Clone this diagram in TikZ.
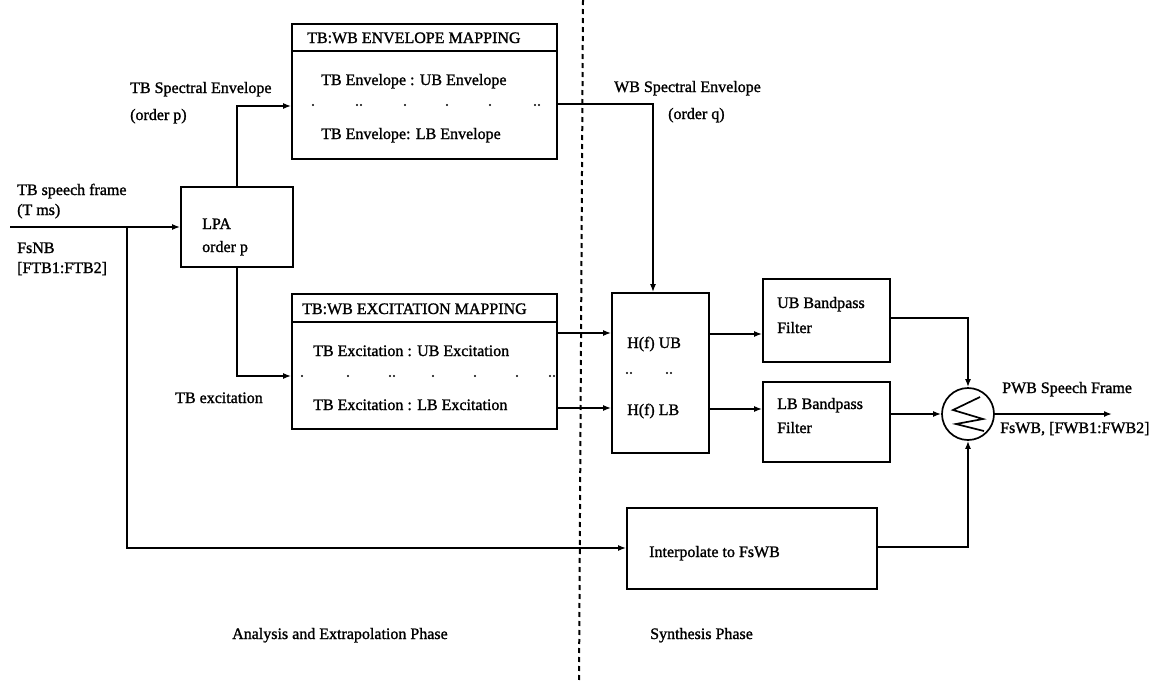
\documentclass[tikz,border=0pt]{standalone}
\usepackage{fontspec}
\setmainfont{Liberation Serif}
\newfontfamily\scanfont{Liberation Serif}[FakeBold=1.3]
\usetikzlibrary{arrows.meta}
\tikzset{
  box/.style={draw, line width=1.7pt, inner sep=0pt},
  lbl/.style={anchor=base west, inner sep=0pt, font=\scanfont\fontsize{16}{19}\selectfont},
  arr/.style={line width=1.6pt, -{Latex[length=8pt,width=6pt]}},
  ln/.style={line width=1.7pt},
  divider/.style={line width=2pt, dash pattern=on 5pt off 4pt},
}
\begin{document}
\begin{tikzpicture}[x=1pt,y=-1pt]
\useasboundingbox (0,0) rectangle (1161,683);
% boxes
\node[box, minimum width=112pt, minimum height=80pt] (lpa) at (237,227) {};
\node[box, minimum width=265pt, minimum height=135pt] (env) at (424.5,91.5) {};
\node[box, minimum width=265pt, minimum height=135pt] (exc) at (424.5,361.5) {};
\node[box, minimum width=97pt, minimum height=160pt] (hf) at (660.5,373) {};
\node[box, minimum width=127pt, minimum height=83pt] (ubf) at (826.5,320.5) {};
\node[box, minimum width=127pt, minimum height=80pt] (lbf) at (826.5,422) {};
\node[box, minimum width=250pt, minimum height=81pt] (interp) at (752,548.5) {};
\node[box, circle, minimum size=52pt] (sum) at (968,414) {};
% title separators
\coordinate (envsep) at (0,51);
\coordinate (excsep) at (0,322);
\draw[ln] (env.west |- envsep) -- (env.east |- envsep);
\draw[ln] (exc.west |- excsep) -- (exc.east |- excsep);
% dotted separators
\foreach \x in {313,357,361,405,447,490,535,539} \fill (\x,105) circle (1.1);
\foreach \x in {302,348,390,394,433,475,517,550,554} \fill (\x,376) circle (1.1);
\foreach \x in {627,631,667,671} \fill (\x,373) circle (1.1);
% divider
\coordinate (dv1) at (583,0);
\coordinate (dv2) at (579,683);
\draw[divider] (dv1) -- (dv2);
% summer symbol
\draw[ln, line join=miter, shift={(sum.center)}] (12,-17) -- (-15,-4) -- (15,5) -- (-12,10) -- (16,17);
% connectors
\coordinate (in) at (10,227);
\coordinate (jn) at (127,227);
\coordinate (jnb) at (127,548);
\draw[arr] (in) -- (lpa.west);
\draw[arr] (jn) -- (jnb) -- (interp.west |- jnb);
\coordinate (envin) at (237,106);
\draw[arr] (lpa.north) -- (envin) -- (env.west |- envin);
\coordinate (excin) at (237,376);
\draw[arr] (lpa.south) -- (excin) -- (exc.west |- excin);
\coordinate (wbc) at (653,104);
\draw[arr] (env.east |- wbc) -- (wbc) -- (hf.north -| wbc);
\coordinate (e1) at (0,333);
\coordinate (e2) at (0,408);
\draw[arr] (exc.east |- e1) -- (hf.west |- e1);
\draw[arr] (exc.east |- e2) -- (hf.west |- e2);
\coordinate (h1) at (0,334);
\coordinate (h2) at (0,409);
\draw[arr] (hf.east |- h1) -- (ubf.west |- h1);
\draw[arr] (hf.east |- h2) -- (lbf.west |- h2);
\coordinate (u1) at (968,318);
\draw[arr] (ubf.east |- u1) -- (u1) -- (sum.north);
\draw[arr] (lbf.east |- sum) -- (sum.west);
\coordinate (i1) at (968,547);
\draw[arr] (interp.east |- i1) -- (i1) -- (sum.south);
\coordinate (out) at (1112,414);
\draw[arr] (sum.east) -- (out);
% labels
\node[lbl] (envtitle) at (307,43) {TB:WB ENVELOPE MAPPING};
\node[lbl] (envub) at (321,85) {TB Envelope : UB Envelope};
\node[lbl] (envlb) at (321,139) {TB Envelope: LB Envelope};
\node[lbl] (exctitle) at (302,314) {TB:WB EXCITATION MAPPING};
\node[lbl] (excub) at (313,356) {TB Excitation : UB Excitation};
\node[lbl] (exclb) at (313,410) {TB Excitation : LB Excitation};
\node[lbl] (tbse) at (130,93) {TB Spectral Envelope};
\node[lbl] (ordp) at (130,120) {(order p)};
\node[lbl] (tbsf) at (17,195) {TB speech frame};
\node[lbl] (tms) at (17,215) {(T ms)};
\node[lbl] (fsnb) at (17,253) {FsNB};
\node[lbl] (ftb) at (17,273) {[FTB1:FTB2]};
\node[lbl] (lpa1) at (202,229) {LPA};
\node[lbl] (lpa2) at (202,252) {order p};
\node[lbl] (wbse) at (614,92) {WB Spectral Envelope};
\node[lbl] (ordq) at (668,119) {(order q)};
\node[lbl] (hub) at (627,348) {H(f) UB};
\node[lbl] (hlb) at (627,415) {H(f) LB};
\node[lbl] (ubb) at (777,308) {UB Bandpass};
\node[lbl] (ubfl) at (777,333) {Filter};
\node[lbl] (lbb) at (777,409) {LB Bandpass};
\node[lbl] (lbfl) at (777,433) {Filter};
\node[lbl] (pwb) at (1002,393) {PWB Speech Frame};
\node[lbl] (fswb) at (1000,433) {FsWB, [FWB1:FWB2]};
\node[lbl] (intp) at (649,557) {Interpolate to FsWB};
\node[lbl] (tbex) at (175,403) {TB excitation};
\node[lbl] (ana) at (232,639) {Analysis and Extrapolation Phase};
\node[lbl] (syn) at (650,639) {Synthesis Phase};
\end{tikzpicture}
\end{document}
